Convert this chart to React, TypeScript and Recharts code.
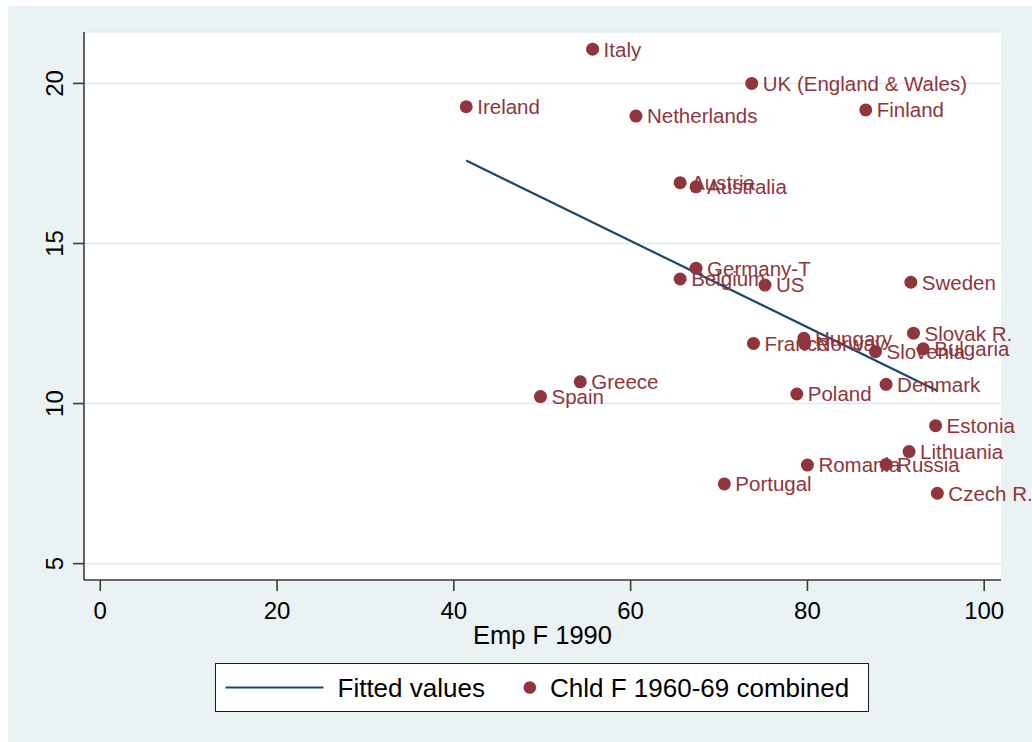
import React from 'react';
import { ScatterChart, Scatter, XAxis, YAxis, CartesianGrid, Legend } from 'recharts';

const countries = [
  'Italy', 'UK (England & Wales)', 'Ireland', 'Netherlands', 'Finland', 'Austria', 'Australia',
  'Germany-T', 'Belgium', 'US', 'Sweden', 'Slovak R.', 'Bulgaria', 'Slovenia', 'France',
  'Hungary', 'Norway', 'Greece', 'Spain', 'Poland', 'Denmark', 'Estonia', 'Lithuania',
  'Romania', 'Russia', 'Portugal', 'Czech R.',
];
const empF1990 = [
  55.7, 73.7, 41.4, 60.6, 86.6, 65.6, 67.4,
  67.4, 65.6, 75.2, 91.7, 92.0, 93.1, 87.7, 73.9,
  79.6, 79.7, 54.3, 49.8, 78.8, 88.9, 94.5, 91.5,
  80.0, 88.9, 70.6, 94.7,
];
const chldF = [
  21.07, 20.0, 19.27, 18.98, 19.17, 16.9, 16.77,
  14.23, 13.89, 13.7, 13.79, 12.2, 11.71, 11.62, 11.88,
  12.04, 11.86, 10.68, 10.22, 10.3, 10.6, 9.31, 8.5,
  8.08, 8.1, 7.49, 7.2,
];
const fittedX = [41.4, 94.7];
const fittedY = [17.59, 10.4];

const xTicks = [0, 20, 40, 60, 80, 100];
const yTicks = [5, 10, 15, 20];

const xLabel = 'Emp F 1990';
const legendFitted = 'Fitted values';
const legendPoints = 'Chld F 1960-69 combined';

const points = countries.map((name, i) => ({ name, x: empF1990[i], y: chldF[i] }));
const fitted = fittedX.map((x, i) => ({ x, y: fittedY[i] }));

const MAROON = '#90353B';
const NAVY = '#1A476F';
const FONT = '"Liberation Sans", Arial, Helvetica, sans-serif';
const AXIS = '#3c3c3c';

const PointShape = (props: any) => {
  const { cx, cy, payload } = props;
  return (
    <g>
      <circle cx={cx} cy={cy} r={6.5} fill={MAROON} />
      <text x={cx + 11} y={cy} dy="0.36em" fill={MAROON} fontSize={20.5} fontFamily={FONT}>
        {payload.name}
      </text>
    </g>
  );
};

const YTick = (props: any) => {
  const { x, y, payload } = props;
  return (
    <text
      x={x}
      y={y}
      transform={`rotate(-90, ${x}, ${y})`}
      textAnchor="middle"
      fill="#000"
      fontSize={24}
      fontFamily={FONT}
    >
      {payload.value}
    </text>
  );
};

const LegendBox = () => (
  <svg width={654} height={49} style={{ display: 'block' }}>
    <rect x={0.5} y={0.5} width={653} height={48} fill="#fff" stroke="#1a1a1a" strokeWidth={1} />
    <line x1={10.5} x2={108.5} y1={24.5} y2={24.5} stroke={NAVY} strokeWidth={2.2} />
    <text x={122.5} y={24.5} dy="0.36em" fontSize={26} fontFamily={FONT} fill="#000">
      {legendFitted}
    </text>
    <circle cx={314.8} cy={24.5} r={6.3} fill={MAROON} />
    <text x={335} y={24.5} dy="0.36em" fontSize={26} fontFamily={FONT} fill="#000">
      {legendPoints}
    </text>
  </svg>
);

export default function App() {
  return (
    <div
      style={{
        position: 'fixed',
        left: 0,
        top: 0,
        width: 1032,
        height: 742,
        background: '#fff',
        overflow: 'hidden',
        fontFamily: FONT,
      }}
    >
      <div
        style={{ position: 'absolute', left: 8, top: 6, right: 0, bottom: 0, background: '#EAF2F3' }}
      />
      <div style={{ position: 'absolute', left: 0, top: 0 }}>
        <ScatterChart
          width={1032}
          height={742}
          margin={{ top: 32, right: 31, bottom: 121, left: 0 }}
          style={{ fontFamily: FONT, overflow: 'visible' }}
        >
          <CartesianGrid
            horizontal={true}
            vertical={false}
            fill="#fff"
            fillOpacity={1}
            stroke="#E0EAED"
            strokeWidth={1.5}
          />
          <XAxis
            type="number"
            dataKey="x"
            domain={[-1.84, 101.9]}
            ticks={xTicks}
            interval={0}
            height={41}
            tickSize={11}
            tickMargin={11}
            axisLine={{ stroke: AXIS, strokeWidth: 1.6 }}
            tickLine={{ stroke: AXIS, strokeWidth: 1.6 }}
            tick={{ fill: '#000', fontSize: 24, fontFamily: FONT }}
            label={{ value: xLabel, position: 'bottom', offset: 5, fill: '#000', fontSize: 25.5, fontFamily: FONT }}
          />
          <YAxis
            type="number"
            dataKey="y"
            domain={[4.49, 21.605]}
            ticks={yTicks}
            interval={0}
            width={84}
            tickSize={11}
            tickMargin={10}
            axisLine={{ stroke: AXIS, strokeWidth: 1.6 }}
            tickLine={{ stroke: AXIS, strokeWidth: 1.6 }}
            tick={<YTick />}
          />
          <Legend
            layout="horizontal"
            verticalAlign="middle"
            align="center"
            wrapperStyle={{ left: 215, top: 663, width: 654, height: 49 }}
            content={() => <LegendBox />}
          />
          <Scatter
            name={legendFitted}
            data={fitted}
            line={{ stroke: NAVY, strokeWidth: 2.2 }}
            shape={() => <g />}
            isAnimationActive={false}
          />
          <Scatter
            name={legendPoints}
            data={points}
            fill={MAROON}
            shape={<PointShape />}
            isAnimationActive={false}
          />
        </ScatterChart>
      </div>
    </div>
  );
}
